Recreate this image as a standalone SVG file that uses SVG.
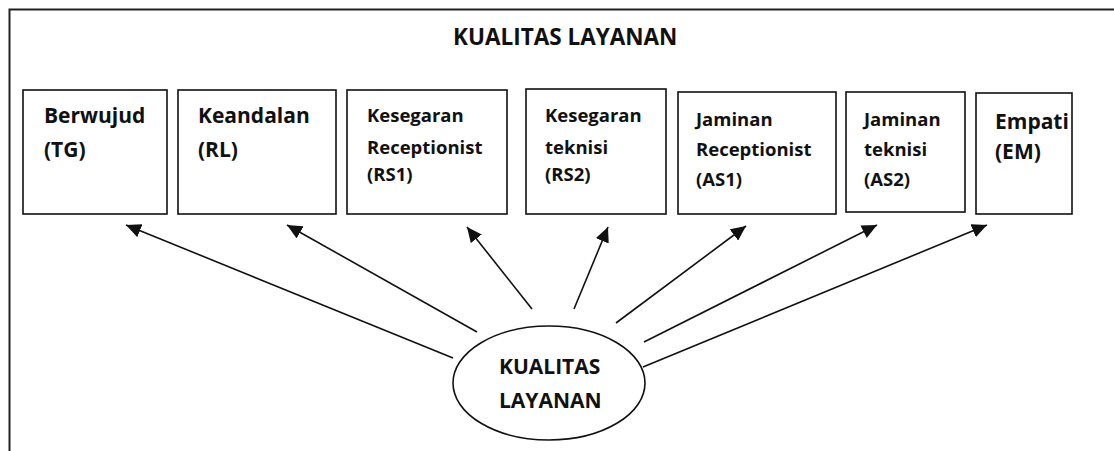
<svg xmlns="http://www.w3.org/2000/svg" width="1114" height="451" viewBox="0 0 1114 451">
  <style>
    .frame { fill: none; stroke: #222; stroke-width: 2; }
    .box { fill: #fff; stroke: #111; stroke-width: 1.6; }
    .lbl { font-family: "Open Sans", "Liberation Sans", sans-serif; font-weight: 700; fill: #111; font-variant-ligatures: none; }
    .head { font-size: 22.5px; }
    .big { font-size: 21px; }
    .small { font-size: 18.5px; }
    .link { fill: none; stroke: #111; stroke-width: 1.6; }
  </style>
  <defs>
    <marker id="arrow" markerUnits="userSpaceOnUse" markerWidth="16" markerHeight="14" refX="15" refY="7" orient="auto">
      <path d="M0,0 L15,7 L0,14 Z" fill="#111"/>
    </marker>
  </defs>

  <rect width="1114" height="451" fill="#fff"/>

  <!-- outer frame (open on the right and bottom) -->
  <path class="frame" d="M9.5,451 V9.5 H1114"/>

  <g id="title">
    <text class="lbl head" x="453" y="45">KUALITAS LAYANAN</text>
  </g>

  <g id="tg">
    <rect class="box" x="23" y="90" width="144" height="124"/>
    <text class="lbl big" x="44" y="123">Berwujud</text>
    <text class="lbl big" x="44" y="157">(TG)</text>
  </g>

  <g id="rl">
    <rect class="box" x="178" y="90" width="158" height="124"/>
    <text class="lbl big" x="198" y="123">Keandalan</text>
    <text class="lbl big" x="198" y="157">(RL)</text>
  </g>

  <g id="rs1">
    <rect class="box" x="347" y="90" width="160" height="124"/>
    <text class="lbl small" x="367" y="122">Kesegaran</text>
    <text class="lbl small" x="367" y="154">Receptionist</text>
    <text class="lbl small" x="367" y="181">(RS1)</text>
  </g>

  <g id="rs2">
    <rect class="box" x="526" y="89" width="140" height="125"/>
    <text class="lbl small" x="545" y="122">Kesegaran</text>
    <text class="lbl small" x="545" y="154">teknisi</text>
    <text class="lbl small" x="545" y="181">(RS2)</text>
  </g>

  <g id="as1">
    <rect class="box" x="678" y="92" width="158" height="122"/>
    <text class="lbl small" x="696" y="126">Jaminan</text>
    <text class="lbl small" x="696" y="156">Receptionist</text>
    <text class="lbl small" x="696" y="186">(AS1)</text>
  </g>

  <g id="as2">
    <rect class="box" x="846" y="92" width="119" height="120"/>
    <text class="lbl small" x="864" y="126">Jaminan</text>
    <text class="lbl small" x="864" y="156">teknisi</text>
    <text class="lbl small" x="864" y="186">(AS2)</text>
  </g>

  <g id="em">
    <rect class="box" x="976" y="93" width="96" height="121"/>
    <text class="lbl big" x="995" y="129">Empati</text>
    <text class="lbl big" x="995" y="159">(EM)</text>
  </g>

  <g id="kualitas">
    <ellipse class="box" cx="549" cy="383" rx="96" ry="57"/>
    <text class="lbl big" x="499" y="374">KUALITAS</text>
    <text class="lbl big" x="499" y="408">LAYANAN</text>
  </g>

  <g id="connectors">
    <line class="link" x1="453" y1="358" x2="126" y2="225" marker-end="url(#arrow)"/>
    <line class="link" x1="477" y1="332" x2="287" y2="225" marker-end="url(#arrow)"/>
    <line class="link" x1="532" y1="309" x2="467" y2="227" marker-end="url(#arrow)"/>
    <line class="link" x1="574" y1="309" x2="608" y2="227" marker-end="url(#arrow)"/>
    <line class="link" x1="616" y1="323" x2="746" y2="226" marker-end="url(#arrow)"/>
    <line class="link" x1="644" y1="342" x2="877" y2="225" marker-end="url(#arrow)"/>
    <line class="link" x1="643" y1="367" x2="987" y2="225" marker-end="url(#arrow)"/>
  </g>
</svg>
